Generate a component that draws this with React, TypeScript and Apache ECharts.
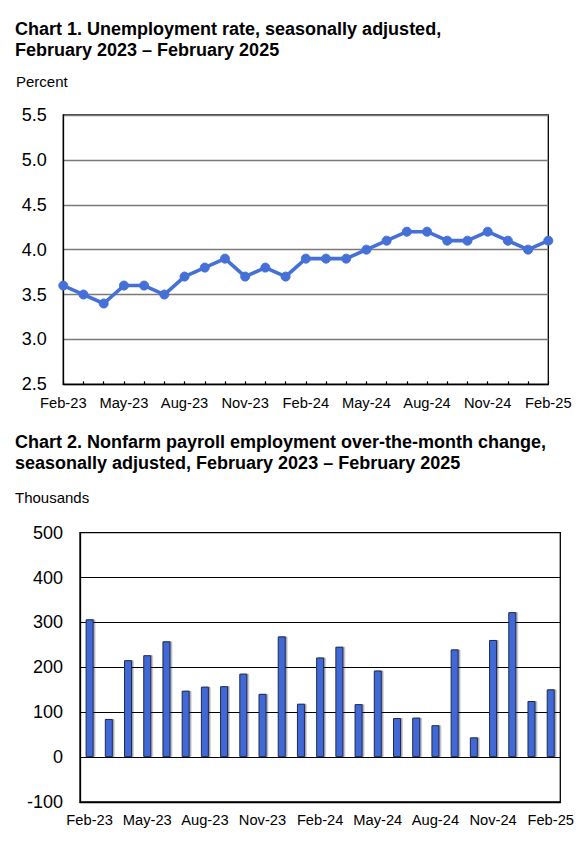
import React, { useEffect, useRef } from "react";
import * as echarts from "echarts";

const months = [
  "Feb-23", "Mar-23", "Apr-23", "May-23", "Jun-23", "Jul-23", "Aug-23", "Sep-23", "Oct-23", "Nov-23", "Dec-23",
  "Jan-24", "Feb-24", "Mar-24", "Apr-24", "May-24", "Jun-24", "Jul-24", "Aug-24", "Sep-24", "Oct-24", "Nov-24", "Dec-24",
  "Jan-25", "Feb-25",
];

const unemploymentRate = [
  3.6, 3.5, 3.4, 3.6, 3.6, 3.5, 3.7, 3.8, 3.9, 3.7, 3.8,
  3.7, 3.9, 3.9, 3.9, 4.0, 4.1, 4.2, 4.2, 4.1, 4.1, 4.2, 4.1,
  4.0, 4.1,
];

const payrollChange = [
  307, 85, 216, 227, 258, 148, 157, 158, 186, 141, 269,
  119, 222, 246, 118, 193, 87, 88, 71, 240, 44, 261, 323,
  125, 151,
];

const chart1Title = "Chart 1. Unemployment rate, seasonally adjusted,\nFebruary 2023 \u2013 February 2025";
const chart2Title = "Chart 2. Nonfarm payroll employment over-the-month change,\nseasonally adjusted, February 2023 \u2013 February 2025";
const chart1Unit = "Percent";
const chart2Unit = "Thousands";

const FONT = "Liberation Sans, Arial, Helvetica, sans-serif";
const LINE_COLOR = "#4470D8";
const BAR_COLOR = "#4169D6";

export default function App() {
  const ref = useRef<HTMLDivElement>(null);

  useEffect(() => {
    if (!ref.current) return;
    const chart = echarts.init(ref.current, undefined, { renderer: "svg" });
    const titleStyle = {
      fontFamily: FONT,
      fontSize: 18,
      fontWeight: "bold" as const,
      color: "#000",
      lineHeight: 21.5,
    };
    const unitStyle = {
      fontFamily: FONT,
      fontSize: 15,
      fontWeight: "normal" as const,
      color: "#000",
    };
    chart.setOption({
      animation: false,
      backgroundColor: "#fff",
      title: [
        { text: chart1Title, left: 15, top: 18, textStyle: titleStyle, padding: 0 },
        { text: chart1Unit, left: 16, top: 74, textStyle: unitStyle, padding: 0 },
        { text: chart2Title, left: 15, top: 432, textStyle: { ...titleStyle, lineHeight: 20.7 }, padding: 0 },
        { text: chart2Unit, left: 15, top: 490, textStyle: unitStyle, padding: 0 },
      ],
      grid: [
        {
          left: 63.3, right: 36.7, top: 115, height: 269.3,
          show: true, borderColor: "#000", borderWidth: 1.3, backgroundColor: "transparent",
        },
        {
          left: 80, right: 24.7, top: 532.7, height: 269.3,
          show: true, borderColor: "#000", borderWidth: 1.3, backgroundColor: "transparent",
        },
      ],
      xAxis: [
        {
          type: "category",
          gridIndex: 0,
          data: months,
          boundaryGap: false,
          axisLine: { onZero: false, lineStyle: { color: "#000", width: 1.3 } },
          axisTick: { show: true, inside: true, length: 3, interval: 0, lineStyle: { color: "#000", width: 1.2 } },
          axisLabel: { interval: 2, margin: 11, fontFamily: FONT, fontSize: 14.7, color: "#000" },
          splitLine: { show: false },
        },
        {
          type: "category",
          gridIndex: 1,
          data: months,
          boundaryGap: true,
          axisLine: { onZero: false, lineStyle: { color: "#000", width: 1.3 } },
          axisTick: { show: false },
          axisLabel: { interval: 2, margin: 10, fontFamily: FONT, fontSize: 14.7, color: "#000" },
          splitLine: { show: false },
        },
      ],
      yAxis: [
        {
          type: "value",
          gridIndex: 0,
          min: 2.5,
          max: 5.5,
          interval: 0.5,
          axisLine: { show: true, lineStyle: { color: "#000", width: 1.3 } },
          axisTick: { show: false },
          axisLabel: {
            margin: 16.5, fontFamily: FONT, fontSize: 18, color: "#000",
            formatter: (v: number) => v.toFixed(1),
          },
          splitLine: { show: true, lineStyle: { color: "#7a7a7a", width: 1.3 } },
        },
        {
          type: "value",
          gridIndex: 1,
          min: -100,
          max: 500,
          interval: 100,
          axisLine: { show: true, lineStyle: { color: "#000", width: 1.3 } },
          axisTick: { show: false },
          axisLabel: { margin: 17, fontFamily: FONT, fontSize: 18, color: "#000" },
          splitLine: { show: true, lineStyle: { color: "#000", width: 1.1 } },
        },
      ],
      series: [
        {
          type: "line",
          xAxisIndex: 0,
          yAxisIndex: 0,
          data: unemploymentRate,
          symbol: "circle",
          symbolSize: 9,
          lineStyle: { color: LINE_COLOR, width: 3.6 },
          itemStyle: { color: LINE_COLOR, borderColor: LINE_COLOR },
          z: 3,
        },
        {
          type: "bar",
          xAxisIndex: 1,
          yAxisIndex: 1,
          data: payrollChange,
          barWidth: 8,
          itemStyle: {
            color: BAR_COLOR,
            borderColor: "#1c2a55",
            borderWidth: 1,
            shadowColor: "rgba(0,0,0,0.35)",
            shadowOffsetX: 1.5,
            shadowOffsetY: 0,
            shadowBlur: 1,
          },
          z: 3,
        },
      ],
    });
    return () => chart.dispose();
  }, []);

  return (
    <div
      ref={ref}
      style={{ position: "absolute", left: 0, top: 0, width: 585, height: 842, background: "#fff" }}
    />
  );
}
